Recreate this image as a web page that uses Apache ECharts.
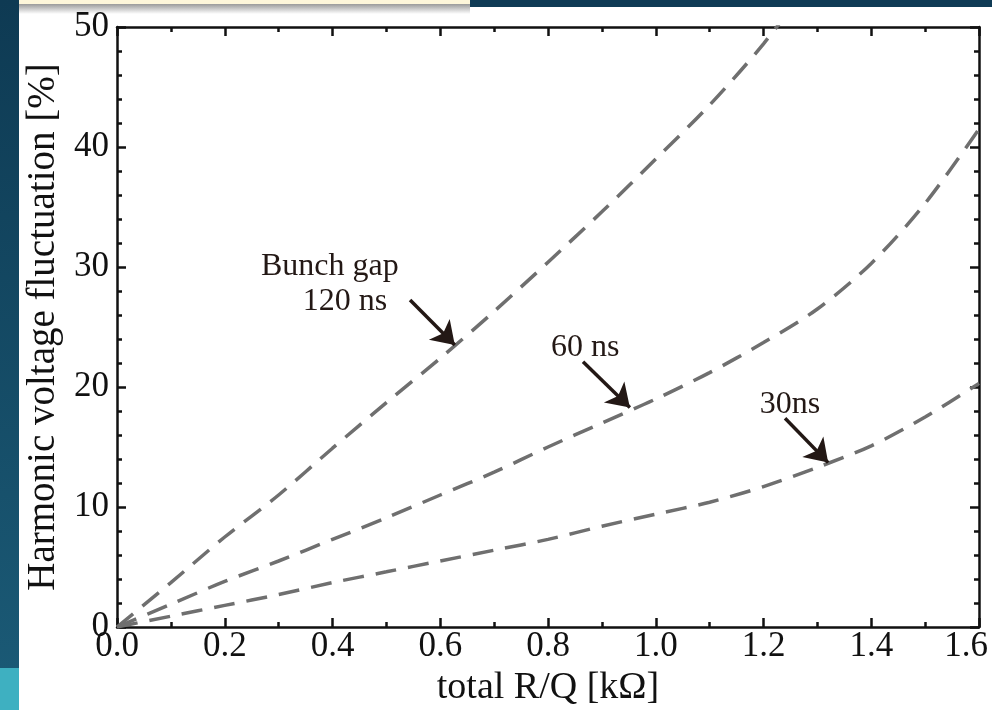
<!DOCTYPE html>
<html>
<head>
<meta charset="utf-8">
<script src="https://cdn.jsdelivr.net/npm/echarts@6/dist/echarts.min.js"></script>
<style>
  html, body { margin: 0; padding: 0; background: #ffffff; }
  #chart { width: 992px; height: 710px; }
</style>
</head>
<body>
<div id="chart"></div>
<script>
// values: R/Q [kOhm] -> fluctuation [%]
const rq = [0, 0.1, 0.2, 0.3, 0.4, 0.5, 0.6, 0.7, 0.8, 0.9, 1.0, 1.1, 1.2, 1.3, 1.4, 1.5, 1.6];
const gap120 = [0, 3.7, 7.5, 11.0, 14.9, 18.7, 22.4, 26.3, 30.4, 34.6, 39.0, 43.5, 48.6, 54.5];
const gap60 = [0, 1.9, 3.8, 5.5, 7.3, 9.1, 11.0, 12.9, 15.0, 17.0, 19.0, 21.2, 23.7, 26.5, 30.3, 35.3, 41.5];
const gap30 = [0, 0.9, 1.8, 2.7, 3.7, 4.6, 5.5, 6.4, 7.3, 8.4, 9.4, 10.4, 11.7, 13.3, 15.1, 17.5, 20.3];

const xTicks = ["0.0", "0.2", "0.4", "0.6", "0.8", "1.0", "1.2", "1.4", "1.6"];

// annotation text & arrows in data coords
const notes = [
  { text: "Bunch gap", at: [0.395, 30.0] },
  { text: "120 ns", at: [0.423, 27.1] },
  { text: "60 ns", at: [0.869, 23.3] },
  { text: "30ns", at: [1.249, 18.5] }
];
const arrows = [
  [[0.544, 27.25], [0.627, 23.5]],
  [[0.865, 22.1], [0.952, 18.3]],
  [[1.240, 17.4], [1.320, 13.7]]
];

const serif = "Liberation Serif, Times New Roman, serif";
const curveColor = "#6f6f6f";

function pairs(ys) {
  return ys.map((v, i) => [rq[i], v]);
}

const mychart = echarts.init(document.getElementById("chart"));

const axisLineStyle = { color: "#111", width: 2.5 };

function curve(name, ys) {
  return {
    name: name,
    type: "line",
    data: pairs(ys),
    smooth: 0.3,
    showSymbol: false,
    symbol: "none",
    clip: true,
    lineStyle: { color: curveColor, width: 3.5, type: [21, 12] },
    z: 3
  };
}

// 镜像轴（上/右），只画刻度
function mirrorAxis(pos, max, interval, split) {
  return {
    type: "value",
    position: pos,
    min: 0,
    max: max,
    interval: interval,
    axisLine: { show: true, onZero: false, lineStyle: axisLineStyle },
    axisTick: { show: true, inside: true, length: 9, lineStyle: axisLineStyle },
    minorTick: { show: true, splitNumber: split, length: 5, lineStyle: axisLineStyle },
    axisLabel: { show: false },
    splitLine: { show: false }
  };
}

const option = {
  animation: false,
  backgroundColor: "#ffffff",
  graphic: [
    // slide decoration round the figure
    { type: "rect", left: 0, top: 0, shape: { width: 19, height: 710 },
      style: { fill: new echarts.graphic.LinearGradient(0, 0, 0, 1, [
        { offset: 0, color: "#0e3a53" }, { offset: 1, color: "#1b5b77" }]) }, z: -10 },
    { type: "rect", left: 0, top: 668, shape: { width: 19, height: 42 },
      style: { fill: "#3eb0c1" }, z: -9 },
    { type: "rect", left: 470, top: 0, shape: { width: 522, height: 7 },
      style: { fill: "#0f3b55" }, z: -10 },
    { type: "rect", left: 19, top: 4, shape: { width: 451, height: 10 },
      style: { fill: new echarts.graphic.LinearGradient(0, 0, 0, 1, [
        { offset: 0, color: "#9a9a9a" }, { offset: 1, color: "#ffffff" }]) }, z: -10 },
    { type: "rect", left: 19, top: 0, shape: { width: 451, height: 4 },
      style: { fill: "#fdf6da" }, z: -9 }
  ],
  grid: { left: 117, right: 13, top: 27, bottom: 83, containLabel: false, outerBoundsMode: "none" },
  xAxis: [
    {
      type: "value",
      min: 0,
      max: 1.6,
      interval: 0.2,
      name: "total R/Q [k\u03A9]",
      nameLocation: "middle",
      nameGap: 40,
      nameTextStyle: { fontFamily: serif, fontSize: 38, color: "#111" },
      axisLine: { show: true, onZero: false, lineStyle: axisLineStyle },
      axisTick: { show: true, inside: true, length: 9, lineStyle: axisLineStyle },
      minorTick: { show: true, splitNumber: 2, length: 5, lineStyle: axisLineStyle },
      axisLabel: {
        fontFamily: serif, fontSize: 35, color: "#111", margin: 2,
        formatter: (v) => {
          const i = Math.round(v / 0.2);
          const s = xTicks[i] || "";
          // 最后一个标签往左挪，避免被裁掉
          return i === xTicks.length - 1 ? "{last|" + s + "}" : s;
        },
        rich: {
          last: { fontFamily: serif, fontSize: 35, color: "#111", padding: [0, 26, 0, 0] }
        }
      },
      splitLine: { show: false }
    },
    mirrorAxis("top", 1.6, 0.2, 2)
  ],
  yAxis: [
    {
      type: "value",
      min: 0,
      max: 50,
      interval: 10,
      name: "Harmonic voltage fluctuation [%]",
      nameLocation: "middle",
      nameGap: 52,
      nameTextStyle: { fontFamily: serif, fontSize: 39, color: "#111" },
      axisLine: { show: true, onZero: false, lineStyle: axisLineStyle },
      axisTick: { show: true, inside: true, length: 9, lineStyle: axisLineStyle },
      minorTick: { show: true, splitNumber: 5, length: 5, lineStyle: axisLineStyle },
      axisLabel: { fontFamily: serif, fontSize: 35, color: "#111", margin: 8 },
      splitLine: { show: false }
    },
    mirrorAxis("right", 50, 10, 5)
  ],
  series: [
    curve("120 ns", gap120),
    curve("60 ns", gap60),
    curve("30ns", gap30),
    {
      // arrows and notes
      type: "line",
      data: [],
      silent: true,
      markLine: {
        silent: true,
        animation: false,
        symbol: ["none", "arrow"],
        symbolSize: 22,
        lineStyle: { color: "#231815", width: 3.5, type: "solid" },
        label: { show: false },
        emphasis: { disabled: true },
        data: arrows.map((a) => [{ coord: a[0] }, { coord: a[1] }])
      },
      markPoint: {
        silent: true,
        symbol: "circle",
        symbolSize: 0,
        label: {
          show: true,
          position: "inside",
          fontFamily: serif,
          fontSize: 32,
          color: "#231815",
          formatter: (p) => p.name
        },
        data: notes.map((n) => ({ name: n.text, coord: n.at }))
      },
      z: 5
    }
  ]
};
option && mychart.setOption(option);
</script>
</body>
</html>
